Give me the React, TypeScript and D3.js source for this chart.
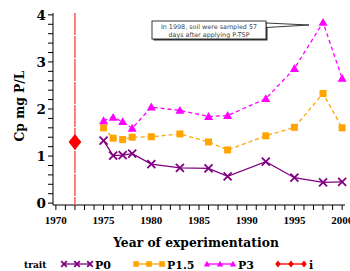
import React from 'react'
import * as d3 from 'd3'

// data
const years = [1975, 1976, 1977, 1978, 1980, 1983, 1986, 1988, 1992, 1995, 1998, 2000]
const p0 = [1.33, 1.01, 1.02, 1.05, 0.83, 0.75, 0.74, 0.57, 0.88, 0.54, 0.44, 0.45]
const p15 = [1.6, 1.38, 1.35, 1.4, 1.41, 1.47, 1.3, 1.13, 1.43, 1.61, 2.33, 1.6]
const p3 = [1.75, 1.82, 1.73, 1.59, 2.04, 1.97, 1.84, 1.86, 2.22, 2.86, 3.84, 2.65]
const initYear = [1972]
const initVal = [1.3]
const xTicks = [1970, 1975, 1980, 1985, 1990, 1995, 2000]
const yTicks = [0, 1, 2, 3, 4]
const noteLines = ['In 1998, soil were sampled 57', 'days after applying P-TSP']

const W = 350, H = 271
const serif = 'DejaVu Serif, serif'
const tickFont = 'Liberation Serif, serif'

const x = d3.scaleLinear().domain([1969.7, 2000.3]).range([53, 345])
const y = d3.scaleLinear().domain([-0.04, 4.04]).range([205, 13])

const line = d3.line<[number, number]>().x(d => x(d[0])).y(d => y(d[1]))

const Cross = ({ cx, cy, s = 4, c }: any) => (
  <path d={`M${cx - s},${cy - s}L${cx + s},${cy + s}M${cx - s},${cy + s}L${cx + s},${cy - s}`} stroke={c} strokeWidth={1.8} />
)
const Square = ({ cx, cy, s = 3.5, c }: any) => (
  <rect x={cx - s} y={cy - s} width={2 * s} height={2 * s} fill={c} />
)
const Tri = ({ cx, cy, s = 4.5, c }: any) => (
  <path d={`M${cx},${cy - s}L${cx + s},${cy + s * 0.75}L${cx - s},${cy + s * 0.75}Z`} fill={c} />
)
const Diamond = ({ cx, cy, s = 6, c }: any) => (
  <path d={`M${cx},${cy - s}L${cx + s * 0.8},${cy}L${cx},${cy + s}L${cx - s * 0.8},${cy}Z`} fill={c} />
)

const series = [
  { name: 'P0', vals: p0, color: '#800080', dash: undefined, M: Cross },
  { name: 'P1.5', vals: p15, color: '#FFA500', dash: '4,3', M: Square },
  { name: 'P3', vals: p3, color: '#FF00FF', dash: '4,3', M: Tri },
]

export default function App() {
  const minorX = d3.range(1970, 2001)
  const minorY = d3.range(0, 4.01, 0.2)
  const legend = [
    { label: 'P0', x0: 64, color: '#800080', M: Cross, ms: 2.8 },
    { label: 'P1.5', x0: 136, color: '#FFA500', M: Square, ms: 2.8 },
    { label: 'P3', x0: 207, color: '#FF00FF', M: Tri, ms: 3.2 },
    { label: 'i', x0: 278, color: '#FF0000', M: Diamond, ms: 3.5 },
  ]
  const bold = (size: number, fam = serif) => ({ fontFamily: fam, fontWeight: 'bold' as const, fontSize: size })
  return (
    <svg width={W} height={H} style={{ position: 'absolute', left: 0, top: 0, background: '#fff' }}>
      {/* axes */}
      <line x1={53} x2={53} y1={13} y2={205} stroke="#000" />
      <line x1={53} x2={345} y1={205} y2={205} stroke="#000" />
      {minorY.map((v, i) => (
        <line key={'ym' + i} x1={48} x2={53} y1={y(v)} y2={y(v)} stroke="#000" />
      ))}
      {minorX.map(v => (
        <line key={'xm' + v} x1={x(v)} x2={x(v)} y1={205} y2={210} stroke="#000" />
      ))}
      {yTicks.map(v => (
        <text key={'yl' + v} x={46} y={y(v) + 5} textAnchor="end" style={bold(13.5)}>{v}</text>
      ))}
      {xTicks.map(v => (
        <text key={'xl' + v} x={x(v)} y={224} textAnchor="middle" style={bold(11, tickFont)}>{v}</text>
      ))}
      <text x={196} y={247} textAnchor="middle" style={bold(12.3)}>Year of experimentation</text>
      <text transform="translate(24,106) rotate(-90)" textAnchor="middle" style={bold(12.3)}>Cp mg P/L</text>

      {/* initial value */}
      <line x1={x(initYear[0])} x2={x(initYear[0])} y1={13} y2={205} stroke="#FF6060" strokeWidth={1.6} strokeDasharray="22,1" />
      <Diamond cx={x(initYear[0])} cy={y(initVal[0])} s={8} c="#FF0000" />

      {series.map(s => {
        const pts = years.map((yr, i) => [yr, s.vals[i]] as [number, number])
        return (
          <g key={s.name}>
            <path d={line(pts) || ''} fill="none" stroke={s.color} strokeWidth={1.3} strokeDasharray={s.dash} />
            {pts.map((p, i) => <s.M key={i} cx={x(p[0])} cy={y(p[1])} c={s.color} />)}
          </g>
        )
      })}

      {/* annotation */}
      <rect x={153.5} y={22.5} width={114} height={18} fill="#333" />
      <path d="M266,23L309,25L266,27.5Z" fill="#fff" stroke="#222" strokeWidth={0.9} />
      <rect x={152} y={21} width={114} height={18} fill="#fff" stroke="#222" strokeWidth={0.9} />
      {noteLines.map((t, i) => (
        <text key={i} x={209} y={29 + i * 7.6} textAnchor="middle" style={{ fontFamily: 'DejaVu Sans', fontSize: 6.4, fill: '#444' }}>{t}</text>
      ))}

      {/* legend */}
      <text x={24} y={268} style={bold(9)}>trait</text>
      {legend.map(l => (
        <g key={l.label}>
          <line x1={l.x0} x2={l.x0 + 26} y1={264} y2={264} stroke={l.color} strokeWidth={1.3} />
          {[0, 13, 26].map(o => <l.M key={o} cx={l.x0 + o} cy={264} s={l.ms} c={l.color} />)}
          <text x={l.x0 + 31} y={268.5} style={bold(11)}>{l.label}</text>
        </g>
      ))}
    </svg>
  )
}
